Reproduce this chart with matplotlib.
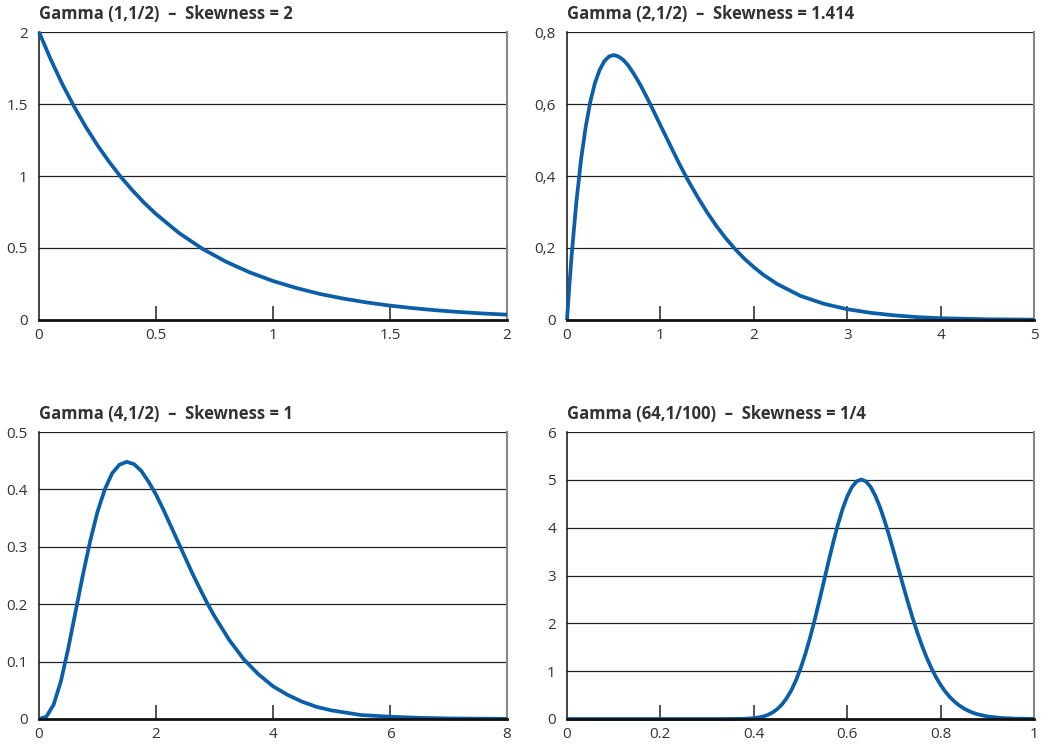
import matplotlib.pyplot as plt

# Gamma (1,1/2)
x1 = [0, 0.05, 0.1, 0.15, 0.2, 0.25, 0.3, 0.35, 0.4, 0.45, 0.5, 0.6, 0.7, 0.8,
      0.9, 1.0, 1.1, 1.2, 1.3, 1.4, 1.5, 1.6, 1.7, 1.8, 1.9, 2.0]
y1 = [2.0, 1.810, 1.637, 1.482, 1.341, 1.213, 1.098, 0.993, 0.899, 0.813,
      0.736, 0.602, 0.493, 0.404, 0.331, 0.271, 0.222, 0.181, 0.149, 0.122,
      0.100, 0.082, 0.067, 0.055, 0.045, 0.037]

# Gamma (2,1/2)
x2 = [0, 0.025, 0.05, 0.1, 0.15, 0.2, 0.25, 0.3, 0.35, 0.4, 0.45, 0.5, 0.55,
      0.6, 0.65, 0.7, 0.75, 0.8, 0.85, 0.9, 0.95, 1.0, 1.1, 1.2, 1.3, 1.4,
      1.5, 1.6, 1.7, 1.8, 1.9, 2.0, 2.1, 2.25, 2.5, 2.75, 3.0, 3.25, 3.5,
      3.75, 4.0, 4.5, 5.0]
y2 = [0, 0.095, 0.181, 0.327, 0.445, 0.536, 0.607, 0.659, 0.695, 0.719,
      0.732, 0.736, 0.732, 0.723, 0.709, 0.690, 0.669, 0.646, 0.621, 0.595,
      0.568, 0.541, 0.488, 0.435, 0.386, 0.341, 0.299, 0.261, 0.227, 0.197,
      0.170, 0.147, 0.126, 0.100, 0.067, 0.045, 0.030, 0.020, 0.013, 0.008,
      0.005, 0.002, 0.001]

# Gamma (4,1/2)
x3 = [0, 0.125, 0.25, 0.375, 0.5, 0.625, 0.75, 0.875, 1.0, 1.125, 1.25, 1.375,
      1.5, 1.625, 1.75, 1.875, 2.0, 2.125, 2.25, 2.375, 2.5, 2.625, 2.75,
      2.875, 3.0, 3.25, 3.5, 3.75, 4.0, 4.25, 4.5, 4.75, 5.0, 5.5, 6.0, 6.5,
      7.0, 8.0]
y3 = [0, 0.004, 0.025, 0.066, 0.123, 0.187, 0.251, 0.310, 0.361, 0.400,
      0.428, 0.443, 0.448, 0.444, 0.432, 0.413, 0.391, 0.365, 0.337, 0.309,
      0.281, 0.253, 0.227, 0.202, 0.179, 0.138, 0.104, 0.078, 0.057, 0.042,
      0.030, 0.021, 0.015, 0.007, 0.004, 0.002, 0.001, 0.0002]

# Gamma (64,1/100)
x4 = [0, 0.2, 0.3, 0.35, 0.37, 0.38, 0.39, 0.4, 0.41, 0.42, 0.43, 0.44, 0.45,
      0.46, 0.47, 0.48, 0.49, 0.5, 0.51, 0.52, 0.53, 0.54, 0.55, 0.56, 0.57,
      0.58, 0.59, 0.6, 0.61, 0.62, 0.63, 0.64, 0.65, 0.66, 0.67, 0.68, 0.69,
      0.7, 0.71, 0.72, 0.73, 0.74, 0.75, 0.76, 0.77, 0.78, 0.79, 0.8, 0.81,
      0.82, 0.83, 0.84, 0.85, 0.86, 0.87, 0.88, 0.9, 0.93, 0.96, 1.0]
y4 = [0, 0, 0, 0.0006, 0.003, 0.005, 0.010, 0.018, 0.032, 0.053, 0.086,
      0.135, 0.205, 0.301, 0.429, 0.594, 0.801, 1.052, 1.348, 1.685, 2.058,
      2.458, 2.873, 3.289, 3.690, 4.061, 4.386, 4.651, 4.848, 4.967, 5.007,
      4.968, 4.854, 4.672, 4.433, 4.147, 3.827, 3.486, 3.134, 2.782, 2.441,
      2.116, 1.813, 1.537, 1.288, 1.068, 0.877, 0.713, 0.573, 0.457, 0.361,
      0.282, 0.219, 0.168, 0.128, 0.097, 0.054, 0.021, 0.008, 0.002]

titles = ["Gamma (1,1/2)  \u2013  Skewness = 2",
          "Gamma (2,1/2)  \u2013  Skewness = 1.414",
          "Gamma (4,1/2)  \u2013  Skewness = 1",
          "Gamma (64,1/100)  \u2013  Skewness = 1/4"]

xticks = [[0, 0.5, 1, 1.5, 2], [0, 1, 2, 3, 4, 5], [0, 2, 4, 6, 8],
          [0, 0.2, 0.4, 0.6, 0.8, 1]]
xlabels = [["0", "0.5", "1", "1.5", "2"], ["0", "1", "2", "3", "4", "5"],
           ["0", "2", "4", "6", "8"], ["0", "0.2", "0.4", "0.6", "0.8", "1"]]
yticks = [[0, 0.5, 1, 1.5, 2], [0, 0.2, 0.4, 0.6, 0.8],
          [0, 0.1, 0.2, 0.3, 0.4, 0.5], [0, 1, 2, 3, 4, 5, 6]]
ylabels = [["0", "0.5", "1", "1.5", "2"], ["0", "0,2", "0,4", "0,6", "0,8"],
           ["0", "0.1", "0.2", "0.3", "0.4", "0.5"],
           ["0", "1", "2", "3", "4", "5", "6"]]

xs = [x1, x2, x3, x4]
ys = [y1, y2, y3, y4]

plt.rcParams['font.family'] = ['Open Sans', 'DejaVu Sans']

fig = plt.figure(figsize=(10.48, 7.48), dpi=100)
W, H = 1048, 748
# pixel boxes: left, right, top, bottom
boxes = [(39, 507, 32, 320), (567, 1034, 32, 320),
         (39, 507, 432, 719), (567, 1034, 432, 719)]

for i in range(4):
    l, r, t, b = boxes[i]
    ax = fig.add_axes([l / W, 1 - b / H, (r - l) / W, (b - t) / H])
    xmax = xticks[i][-1]
    ymax = yticks[i][-1]
    for yv in yticks[i][1:]:
        ax.axhline(yv, color="#222222", lw=0.9, zorder=1)
    ax.plot(xs[i], ys[i], color="#0b5fa8", lw=2.7, solid_capstyle="butt",
            solid_joinstyle="round", zorder=3, clip_on=False)
    ax.set_xlim(0, xmax)
    ax.set_ylim(0, ymax)
    ax.set_xticks(xticks[i])
    ax.set_xticklabels(xlabels[i])
    ax.set_yticks(yticks[i])
    ax.set_yticklabels(ylabels[i])
    # inward ticks on the x axis, none on the y axis
    ax.tick_params(axis="x", direction="in", length=10, width=1.1,
                   color="#222222", pad=6, labelsize=11, labelcolor="#333333")
    ax.tick_params(axis="y", length=0, pad=8, labelsize=11,
                   labelcolor="#333333")
    ax.spines["top"].set_visible(False)
    ax.spines["left"].set_color("#111111")
    ax.spines["left"].set_linewidth(1.1)
    ax.spines["right"].set_color("#888888")
    ax.spines["right"].set_linewidth(1.5)
    ax.spines["bottom"].set_color("#111111")
    ax.spines["bottom"].set_linewidth(2.0)
    ax.spines["bottom"].set_zorder(4)
    # hide the tick marks at both ends of the x axis
    xt = ax.xaxis.get_major_ticks()
    xt[0].tick1line.set_visible(False)
    xt[-1].tick1line.set_visible(False)
    ax.text(0, 1 + 9 / (b - t), titles[i], transform=ax.transAxes, ha="left",
            va="bottom", fontsize=12, fontweight="bold", color="#333333")

fig.savefig("out.png", dpi=100)
